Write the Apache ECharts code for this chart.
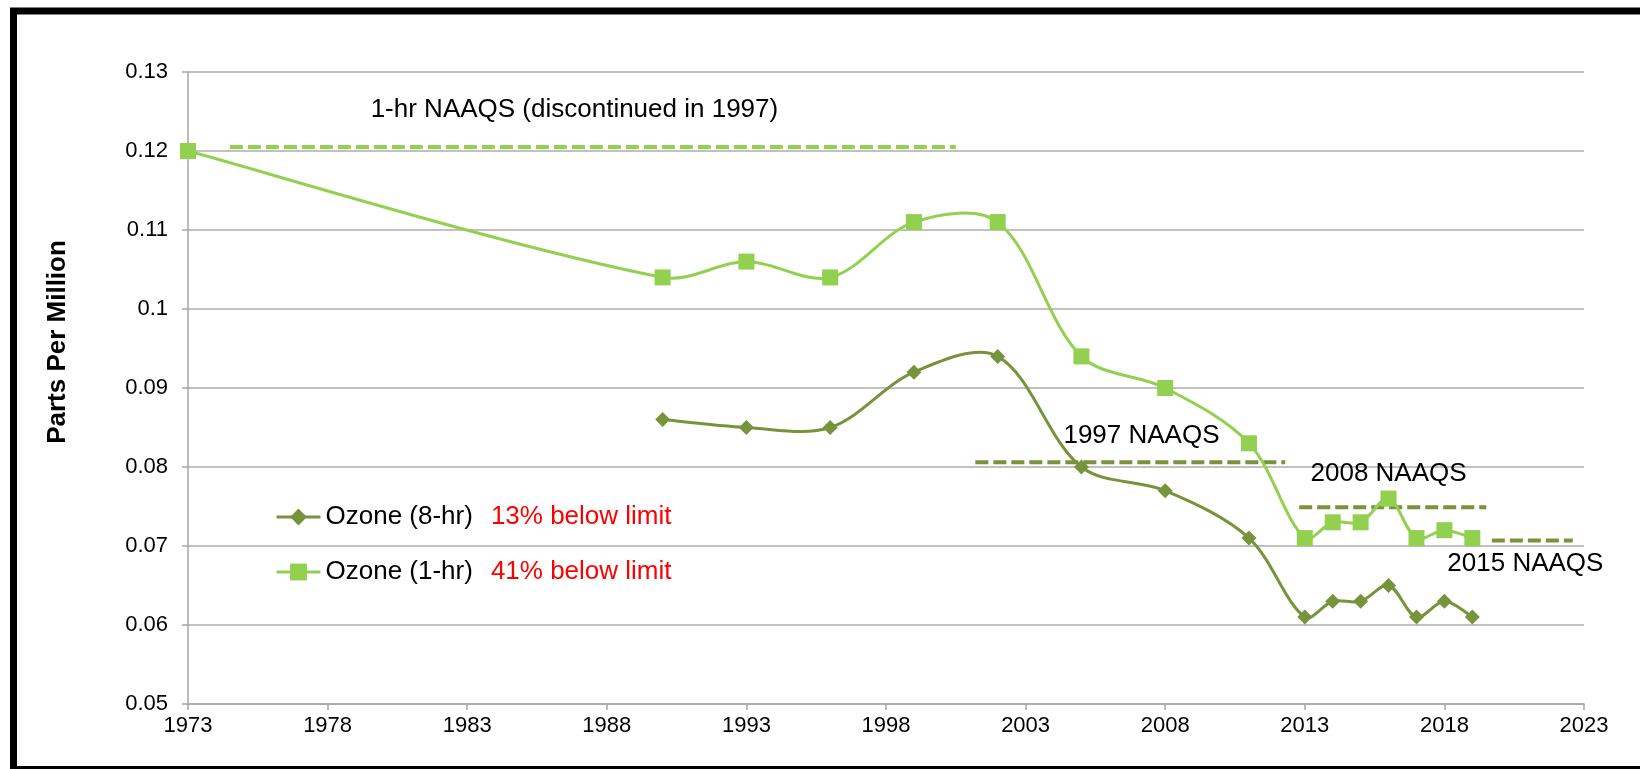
<!DOCTYPE html>
<html>
<head>
<meta charset="utf-8">
<script src="https://cdn.jsdelivr.net/npm/echarts@6/dist/echarts.min.js"></script>
<style>
html,body{margin:0;padding:0;background:#fff;}
#chart{width:1640px;height:769px;}
</style>
</head>
<body>
<div id="chart"></div>
<script>
// ---- data ----
const years8hr = [1990, 1993, 1996, 1999, 2002, 2005, 2008, 2011, 2013, 2014, 2015, 2016, 2017, 2018, 2019];
const ozone8hr = [0.086, 0.085, 0.085, 0.092, 0.094, 0.080, 0.077, 0.071, 0.061, 0.063, 0.063, 0.065, 0.061, 0.063, 0.061];
const years1hr = [1973, 1990, 1993, 1996, 1999, 2002, 2005, 2008, 2011, 2013, 2014, 2015, 2016, 2017, 2018, 2019];
const ozone1hr = [0.120, 0.104, 0.106, 0.104, 0.111, 0.111, 0.094, 0.090, 0.083, 0.071, 0.073, 0.073, 0.076, 0.071, 0.072, 0.071];
const seriesNames = ['Ozone (8-hr)', 'Ozone (1-hr)'];
const seriesNotes = ['13% below limit', '41% below limit'];
// standards (dashed reference lines): [x start, x end, level]
const std1hr = [1974.5, 2000.5, 0.1205];
const std1997 = [2001.2, 2012.3, 0.0806];
const std2008 = [2012.8, 2019.5, 0.0749];
const std2015 = [2019.7, 2022.6, 0.0707];
// annotation labels: [x, y, text]
const annotations = [
  [1986.84, 0.1252, '1-hr NAAQS (discontinued in 1997)'],
  [2007.15, 0.0839, '1997 NAAQS'],
  [2016.0, 0.0791, '2008 NAAQS'],
  [2020.9, 0.0677, '2015 NAAQS']
];
const yAxisTitle = 'Parts Per Million';
const xMin = 1973, xMax = 2023, xStep = 5;
const yMin = 0.05, yMax = 0.13, yStep = 0.01;

// ---- chart ----
const FONT = "'Liberation Sans', Arial, sans-serif";
const LIGHT = '#92D050';
const OLIVE = '#77933C';
const zip = (xs, ys) => xs.map((x, i) => [x, ys[i]]);
const data8 = zip(years8hr, ozone8hr);
const data1 = zip(years1hr, ozone1hr);

const stdSeries = (s, color) => ({
  type: 'line', data: [[s[0], s[2]], [s[1], s[2]]], symbol: 'none', silent: true,
  lineStyle: {color: color, width: 4, type: [13, 5]}, z: 1
});

// Excel-like smoothed curve drawn in pixel space through the axes (api.coord)
const dist = (u, v) => Math.hypot(u[0] - v[0], u[1] - v[1]);
const curveSeries = (data, color) => ({
  type: 'custom', data: data, encode: {x: 0, y: 1}, silent: true, z: 2, clip: true,
  renderItem: (params, api) => {
    if (params.dataIndex !== 0) return null;
    const p = data.map(d => api.coord(d));
    const n = p.length;
    // control handles at each point: tangent (next - prev), split by adjacent segment lengths
    const handle = (i, forward) => {
      const a = p[Math.max(i - 1, 0)], b = p[i], c = p[Math.min(i + 1, n - 1)];
      const la = dist(a, b), lc = dist(b, c);
      const tot = la + lc || 1;
      const f = (forward ? lc : la) / tot / 3;
      const s = forward ? 1 : -1;
      return [b[0] + s * (c[0] - a[0]) * f, b[1] + s * (c[1] - a[1]) * f];
    };
    let d = 'M' + p[0][0] + ' ' + p[0][1];
    for (let i = 0; i < n - 1; i++) {
      const c1 = i === 0 ? [p[0][0] + (p[1][0] - p[0][0]) / 6, p[0][1] + (p[1][1] - p[0][1]) / 6] : handle(i, true);
      const c2 = i + 1 === n - 1 ? [p[n - 1][0] - (p[n - 1][0] - p[n - 2][0]) / 6, p[n - 1][1] - (p[n - 1][1] - p[n - 2][1]) / 6] : handle(i + 1, false);
      d += ' C' + c1[0] + ' ' + c1[1] + ' ' + c2[0] + ' ' + c2[1] + ' ' + p[i + 1][0] + ' ' + p[i + 1][1];
    }
    return {type: 'path', shape: {pathData: d}, style: {fill: 'none', stroke: color, lineWidth: 3, lineJoin: 'round'}};
  }
});

const notes = {};
seriesNames.forEach((n, i) => notes[n] = seriesNotes[i]);

const chart = echarts.init(document.getElementById('chart'), null, {renderer: 'canvas'});
chart.setOption({
  animation: false,
  backgroundColor: '#fff',
  grid: {left: 188, right: 56, top: 72, bottom: 65},
  xAxis: {
    type: 'value', min: xMin, max: xMax, interval: xStep,
    axisLine: {show: true, lineStyle: {color: '#A6A6A6', width: 1.5}},
    axisTick: {show: true, length: 6, lineStyle: {color: '#A6A6A6', width: 1.5}},
    axisLabel: {color: '#000', fontSize: 22, fontFamily: FONT, margin: 11, formatter: v => String(v)},
    splitLine: {show: false}
  },
  yAxis: {
    type: 'value', min: yMin, max: yMax, interval: yStep,
    axisLine: {show: true, lineStyle: {color: '#A6A6A6', width: 1.5}},
    axisTick: {show: true, length: 6, lineStyle: {color: '#A6A6A6', width: 1.5}},
    axisLabel: {color: '#000', fontSize: 22, fontFamily: FONT, margin: 20, formatter: v => String(+v.toFixed(2))},
    splitLine: {show: true, lineStyle: {color: '#ADADAD', width: 1.5}}
  },
  legend: {
    orient: 'vertical', left: 270, top: 497,
    itemWidth: 44, itemHeight: 21, itemGap: 25,
    data: [
      {name: seriesNames[0], lineStyle: {color: OLIVE, width: 3, opacity: 1}},
      {name: seriesNames[1], lineStyle: {color: LIGHT, width: 3, opacity: 1}}
    ],
    textStyle: {
      fontSize: 26, fontFamily: FONT, color: '#000', lineHeight: 30,
      rich: {r: {color: '#FF0000', fontSize: 26, fontFamily: FONT, padding: [0, 0, 0, 18]}}
    },
    formatter: name => name + '{r|' + notes[name] + '}'
  },
  graphic: [
    {type: 'rect', shape: {x: 13.5, y: 11, width: 1700, height: 758.5}, style: {fill: null, stroke: '#000', lineWidth: 7}, silent: true, z: 100},
    {type: 'text', x: 58, y: 342, rotation: Math.PI / 2,
     style: {text: yAxisTitle, fontSize: 26, fontWeight: 'bold', fontFamily: FONT, fill: '#000', align: 'center', verticalAlign: 'middle'}}
  ],
  series: [
    curveSeries(data8, OLIVE),
    curveSeries(data1, LIGHT),
    {
      name: seriesNames[0], type: 'line', data: data8,
      symbol: 'diamond', symbolSize: 15, showAllSymbol: true,
      lineStyle: {color: OLIVE, width: 3, opacity: 0}, itemStyle: {color: OLIVE}, z: 3
    },
    {
      name: seriesNames[1], type: 'line', data: data1,
      symbol: 'rect', symbolSize: 16, showAllSymbol: true,
      lineStyle: {color: LIGHT, width: 3, opacity: 0}, itemStyle: {color: LIGHT}, z: 3
    },
    stdSeries(std1hr, LIGHT),
    stdSeries(std1997, OLIVE),
    stdSeries(std2008, OLIVE),
    stdSeries(std2015, OLIVE),
    {
      type: 'scatter', data: annotations, symbolSize: 0, silent: true, z: 5,
      itemStyle: {opacity: 1},
      label: {show: true, position: 'inside', formatter: p => p.data[2], color: '#000', opacity: 1, fontSize: 26, fontFamily: FONT,
              align: 'center', verticalAlign: 'middle', textBorderWidth: 0, textShadowBlur: 0}
    }
  ]
});
</script>
</body>
</html>
